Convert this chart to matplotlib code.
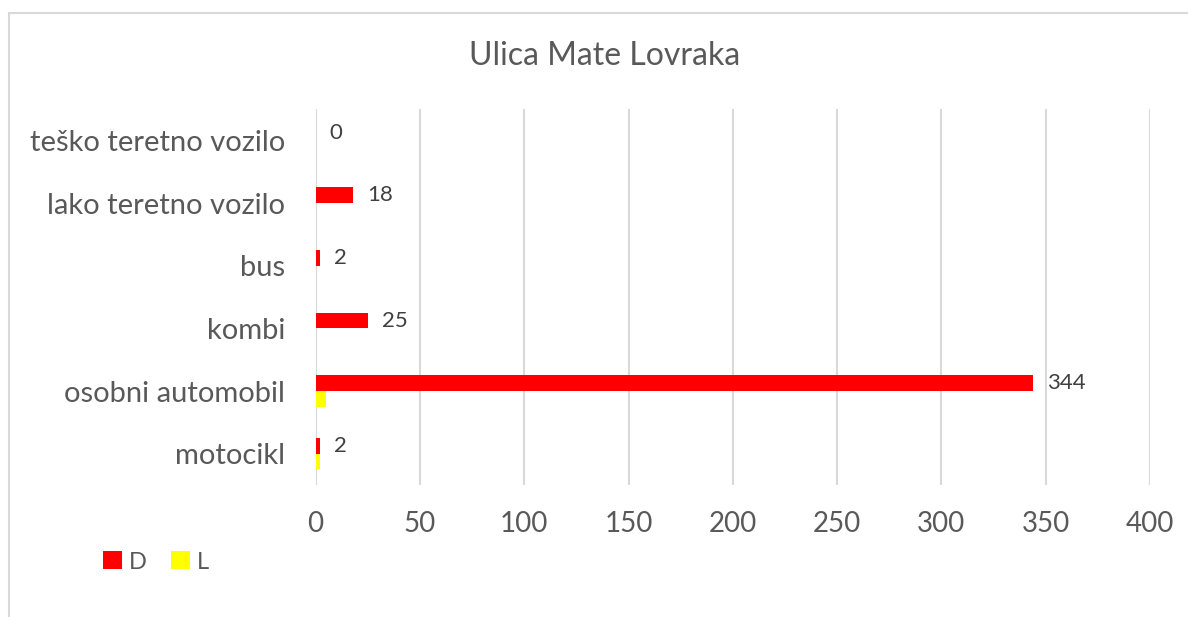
import matplotlib.pyplot as plt
import matplotlib.patches as mpatches
import numpy as np

# vehicle categories, bottom to top as drawn
categories = ['motocikl', 'osobni automobil', 'kombi', 'bus',
              'lako teretno vozilo', 'teško teretno vozilo']
d_values = [2, 344, 25, 2, 18, 0]
l_values = [2, 5, 0, 0, 0, 0]
x_ticks = [0, 50, 100, 150, 200, 250, 300, 350, 400]

plt.rcParams['font.family'] = ['Lato', 'DejaVu Sans']
text_col = '#595959'
grid_col = '#d9d9d9'

fig = plt.figure(figsize=(11.88, 6.17), dpi=100)
ax = fig.add_axes([0.2657, 0.214, 0.968 - 0.2657, 0.823 - 0.214])

y = np.arange(len(categories))
h = 0.25
ax.barh(y + h / 2, d_values, height=h, color='#ff0000', label='D', zorder=3)
ax.barh(y - h / 2, l_values, height=h, color='#ffff00', label='L', zorder=3)

# data labels only for D
for yi, v in zip(y, d_values):
    ax.annotate(str(v), (v, yi + h / 2), xytext=(10, 0), textcoords='offset points',
                va='center', ha='left', fontsize=16, color='#404040')

ax.set_xlim(0, 400)
ax.set_ylim(-0.5, len(categories) - 0.5)
ax.set_xticks(x_ticks)
ax.set_yticks(y)
ax.set_yticklabels(categories)
ax.tick_params(axis='y', length=0, labelsize=21, labelcolor=text_col, pad=22)
ax.tick_params(axis='x', length=0, labelsize=20, labelcolor=text_col, pad=19)
ax.grid(axis='x', color=grid_col, linewidth=1.5, zorder=0)
for s in ax.spines.values():
    s.set_visible(False)

fig.text(605 / 1188, 1 - 56 / 617, 'Ulica Mate Lovraka', ha='center', va='center',
         fontsize=23, color=text_col)

# chart frame
fig.patches.append(mpatches.Rectangle((9 / 1188, -0.1), 1.2, 1 - 13 / 617 + 0.1,
                                      transform=fig.transFigure, fill=False,
                                      edgecolor=grid_col, linewidth=1.5))

fig.legend(loc='center left', bbox_to_anchor=(82 / 1188, 1 - 562 / 617), ncol=2,
           frameon=False, fontsize=17, labelcolor=text_col, handlelength=0.8,
           handleheight=0.8, handletextpad=0.3, columnspacing=1.0)

fig.savefig('out.png', dpi=100)
